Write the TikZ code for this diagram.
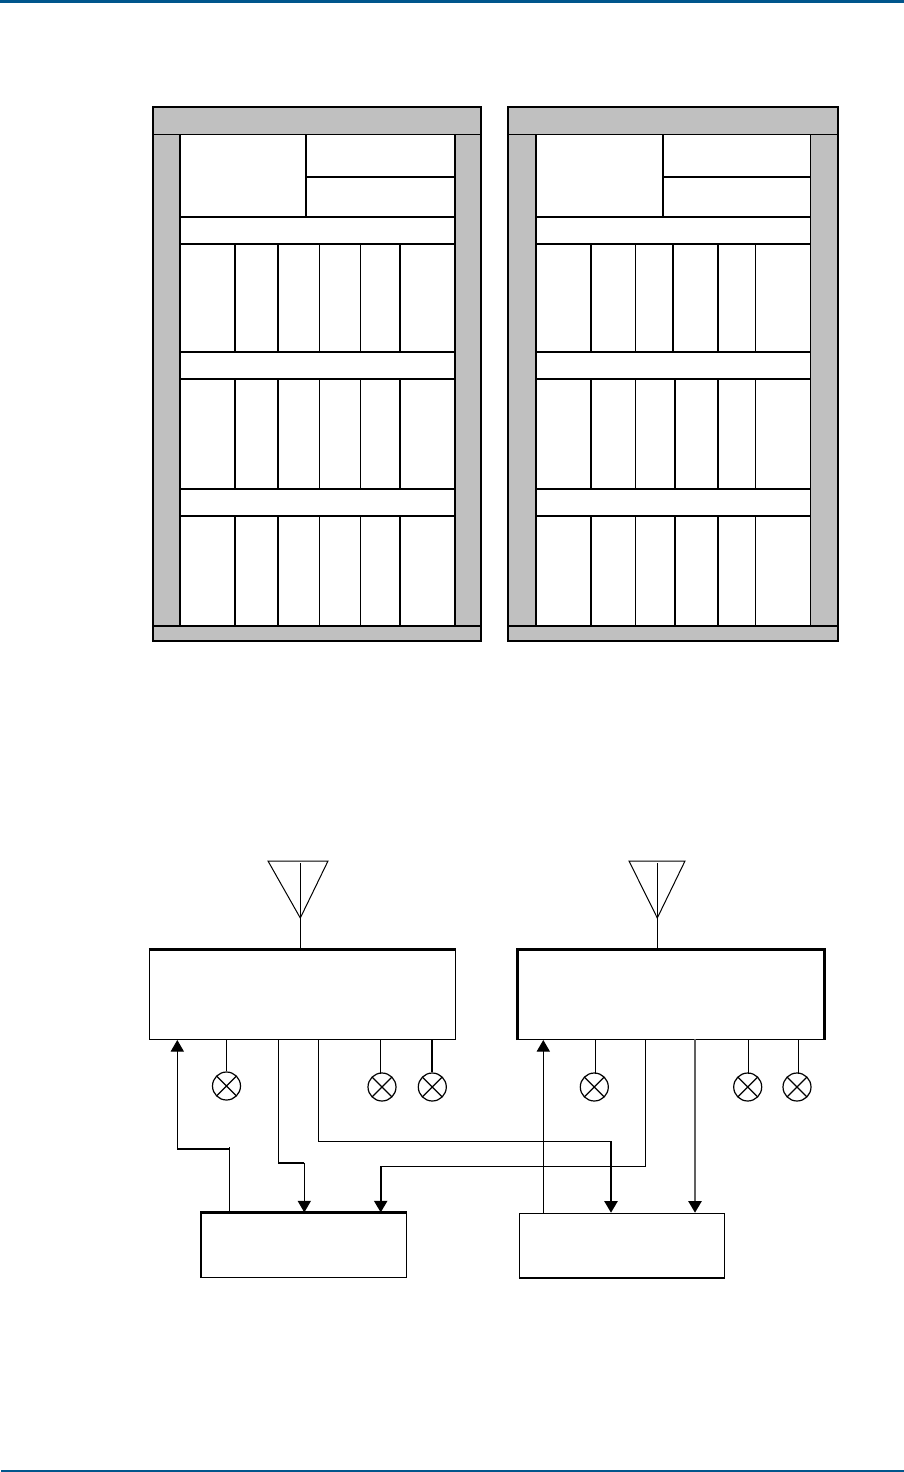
\documentclass[tikz,border=0pt]{standalone}
\usepackage{tikz}
\usetikzlibrary{arrows.meta}
\definecolor{pagebar}{HTML}{00568C}
\definecolor{rackgrey}{HTML}{C0C0C0}
\definecolor{feedgrey}{HTML}{606060}
\tikzset{
  heavy/.style={line width=0.9pt},
  light/.style={line width=0.5pt},
  edge/.style={line width=1.1pt},
  blockbox/.style={draw,light,minimum height=44.8pt,minimum width=153pt,inner sep=0pt},
  lowbox/.style={draw,light,minimum height=32.3pt,minimum width=102.4pt,inner sep=0pt},
  mixer/.style={draw,circle,line width=0.6pt,minimum size=14pt,inner sep=0pt,
    path picture={\draw[line width=0.6pt] (path picture bounding box.north west) -- (path picture bounding box.south east)
      (path picture bounding box.north east) -- (path picture bounding box.south west);}},
  feed/.style={-{Triangle[length=5.8pt,width=6.6pt,color=black]}}
}
\begin{document}
\begin{tikzpicture}[x=0.5pt,y=-0.5pt]
  \useasboundingbox (0,0) rectangle (904,1472);

  % Page rules
  \fill[pagebar] (0,0) rectangle (904,3);
  \fill[pagebar] (1,1470) rectangle (904,1472);

  % Left rack
  \fill[rackgrey] (153,107) rectangle (481,641);
  \fill[white] (180,134) rectangle (455,626);
  \draw[heavy] (153,107) rectangle (481,641);
  \draw[light] (153,134) -- (481,134);
  \draw[heavy] (153,626) -- (481,626);
  \draw[heavy] (180,134) -- (180,626);
  \draw[heavy] (455,134) -- (455,626);
  \draw[heavy] (305.7,134) -- (305.7,217);
  \draw[heavy] (305.7,176.7) -- (455,176.7);
  \foreach \yy in {217,243.7,352,379,489,515.7}
    \draw[heavy] (180,\yy) -- (455,\yy);
  \foreach \yt/\yb in {243.7/352,379/489,515.7/626} {
    \foreach \xx in {235,277.7,400}
      \draw[heavy] (\xx,\yt) -- (\xx,\yb);
    \foreach \xx in {319.7,360.3}
      \draw[light] (\xx,\yt) -- (\xx,\yb);
  }

  % Right rack
  \fill[rackgrey] (508,107) rectangle (838,641);
  \fill[white] (536,134) rectangle (810.5,626);
  \draw[heavy] (508,107) rectangle (838,641);
  \draw[light] (508,134) -- (838,134);
  \draw[heavy] (508,626) -- (838,626);
  \draw[heavy] (536,134) -- (536,626);
  \draw[light] (810.5,134) -- (810.5,626);
  \draw[heavy] (663,134) -- (663,217);
  \draw[heavy] (663,176.7) -- (810.5,176.7);
  \foreach \yy in {217,243.7,352,379,489,515.7}
    \draw[heavy] (536,\yy) -- (810.5,\yy);
  \foreach \xx in {591,718} {
    \foreach \yt/\yb in {243.7/352,379/489,515.7/626}
      \draw[heavy] (\xx,\yt) -- (\xx,\yb);
  }
  \foreach \xx in {635.7,755.7} {
    \foreach \yt/\yb in {243.7/352,379/489,515.7/626}
      \draw[light] (\xx,\yt) -- (\xx,\yb);
  }
  \draw[heavy] (673.3,243.7) -- (673.3,352);
  \draw[heavy] (675,379) -- (675,489);
  \draw[heavy] (675,515.7) -- (675,626);

  % Blocks
  \node[blockbox] (unitL) at (302.3,994.7) {};
  \node[blockbox] (unitR) at (671,994.7) {};
  \node[lowbox] (lowL) at (304,1245.2) {};
  \node[lowbox] (lowR) at (621.8,1245.5) {};
  \draw[edge] (unitL.north west) -- (unitL.north east);
  \draw[edge] (unitR.south west) -- (unitR.north west) -- (unitR.north east) -- (unitR.south east);
  \draw[edge] (lowL.south west) -- (lowL.north west) -- (lowL.north east);
  \draw[edge] (lowR.south west) -- (lowR.south east);

  % Antennas
  \coordinate (tipL) at (300.3,918);
  \coordinate (tipR) at (657.3,918);
  \draw[light] (268,861) -- (328,861) -- (tipL) -- cycle;
  \draw[light] (629,861) -- (685,861) -- (tipR) -- cycle;
  \draw[light] (300.3,863) -- (tipL) -- (tipL |- unitL.north);
  \draw[light] (657.3,863) -- (tipR) -- (tipR |- unitR.north);

  % Mixers
  \node[mixer] (mixA) at (226.5,1086) {};
  \node[mixer] (mixB) at (382,1087) {};
  \node[mixer] (mixC) at (432.3,1087) {};
  \node[mixer] (mixD) at (594.3,1087) {};
  \node[mixer] (mixE) at (747.7,1087) {};
  \node[mixer] (mixF) at (797,1087) {};
  \draw[light] (mixA.north) -- (mixA.north |- unitL.south);
  \draw[light] (380.7,1074) -- (380.7,1039.3);
  \draw[heavy] (mixC.north) -- (mixC.north |- unitL.south);
  \draw[light] (595.7,1074) -- (595.7,1039.3);
  \draw[light] (748.7,1074) -- (748.7,1039.3);
  \draw[light] (798.3,1074) -- (798.3,1039.3);

  % Feeds, left
  \coordinate (bendA) at (229.3,1149);
  \coordinate (bendB) at (177.3,1149);
  \draw[light] (lowL.north -| bendA) -- (229.3,1147);
  \draw[heavy] (bendA) -- (bendB);
  \draw[light,feed] (bendB) -- (bendB |- unitL.south);

  \coordinate (bendC) at (278.3,1162.7);
  \coordinate (bendD) at (304.3,1162.7);
  \draw[light] (bendC |- unitL.south) -- (bendC);
  \draw[heavy] (bendC) -- (bendD);
  \draw[light,feed] (bendD) -- (bendD |- lowL.north);

  % Feeds, crossing
  \coordinate (bendE) at (318,1141.3);
  \coordinate (bendF) at (611,1141.3);
  \draw[light] (bendE |- unitL.south) -- (bendE) -- (bendF);
  \draw[heavy,feed] (bendF) -- (bendF |- lowR.north);

  \coordinate (bendG) at (645.7,1166);
  \coordinate (bendH) at (380.7,1166);
  \draw[light] (bendG |- unitR.south) -- (bendG) -- (bendH);
  \draw[heavy,feed] (bendH) -- (bendH |- lowL.north);

  % Feeds, right
  \coordinate (riseR) at (543.3,1213);
  \coordinate (dropR) at (695,1039.3);
  \draw[light,feed] (riseR) -- (riseR |- unitR.south);
  \draw[heavy,feedgrey,feed] (dropR) -- (dropR |- lowR.north);
\end{tikzpicture}
\end{document}
